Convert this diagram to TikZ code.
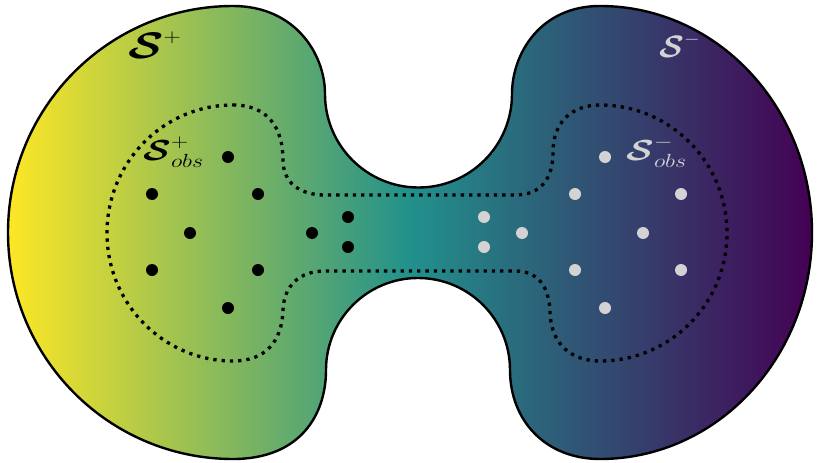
\RequirePackage{fix-cm}
\documentclass[tikz,border=0pt]{standalone}
\usepackage{amsmath}
\usepackage{graphicx}
\definecolor{vyellow}{HTML}{FDE725}
\definecolor{vteal}{HTML}{21918C}
\definecolor{vpurple}{HTML}{440154}
\definecolor{lightdot}{HTML}{D3D3D3}
\pgfdeclarehorizontalshading{viridis}{100bp}{color(0bp)=(vyellow); color(25bp)=(vyellow); color(50bp)=(vteal); color(75bp)=(vpurple); color(100bp)=(vpurple)}
\tikzset{
  outline/.style={draw=black, line width=2.4pt, shading=viridis},
  dotline/.style={draw=black, line width=3.3pt, dash pattern=on 3.3pt off 5pt, line cap=butt},
  bdot/.style={circle, fill=black, inner sep=0pt, minimum size=12pt},
  gdot/.style={circle, fill=lightdot, inner sep=0pt, minimum size=12pt},
  lab/.style={inner sep=0pt, anchor=base west}
}
\begin{document}
\begin{tikzpicture}[x=1pt,y=-1pt]
\useasboundingbox (0,0) rectangle (819,463);
\shadedraw[outline] (233,6) .. controls (295,6) and (325,54) .. (325,94)
  arc[start angle=180, end angle=0, radius=93.5]
  .. controls (512,54) and (540,6) .. (600,6)
  arc[start angle=270, end angle=450, x radius=212, y radius=226.5]
  .. controls (545,459) and (510,420) .. (510,370)
  arc[start angle=0, end angle=-180, radius=92]
  .. controls (326,415) and (300,459) .. (233,459)
  arc[start angle=90, end angle=270, x radius=225, y radius=226.5]
  -- cycle;
\draw[dotline] (233,105) .. controls (268,105) and (283,128) .. (283,160)
  .. controls (283,183) and (300,195) .. (325,195) -- (515,195)
  .. controls (540,195) and (553,180) .. (553,152)
  .. controls (553,122) and (572,105) .. (600,105)
  arc[start angle=270, end angle=450, x radius=127, y radius=128]
  .. controls (572,361) and (551,345) .. (550,312)
  .. controls (549,285) and (537,271) .. (515,271) -- (325,271)
  .. controls (300,271) and (284,285) .. (283,310)
  .. controls (282,342) and (265,361) .. (233,361)
  arc[start angle=90, end angle=270, x radius=126, y radius=128] -- cycle;
% black points
\node[bdot] (b1) at (228,157) {};
\node[bdot] (b2) at (152,194) {};
\node[bdot] (b3) at (258,194) {};
\node[bdot] (b4) at (190,233) {};
\node[bdot] (b5) at (152,270) {};
\node[bdot] (b6) at (258,270) {};
\node[bdot] (b7) at (228,308) {};
\node[bdot] (b8) at (312,233) {};
\node[bdot] (b9) at (348,217) {};
\node[bdot] (b10) at (348,247) {};
% gray points
\node[gdot] (g1) at (484,217) {};
\node[gdot] (g2) at (484,247) {};
\node[gdot] (g3) at (522,233) {};
\node[gdot] (g4) at (605,157) {};
\node[gdot] (g5) at (575,194) {};
\node[gdot] (g6) at (681,194) {};
\node[gdot] (g7) at (643,233) {};
\node[gdot] (g8) at (575,270) {};
\node[gdot] (g9) at (681,270) {};
\node[gdot] (g10) at (605,308) {};
% labels
\node[lab] (splus) at (128,58) {\scalebox{1.25}[1]{\fontsize{37}{37}\selectfont$\boldsymbol{\mathcal{S}}^{\hbox{\fontsize{19}{19}\selectfont$+$}}$}};
\node[lab] (sobsplus) at (143,160) {\scalebox{1.25}[1]{\fontsize{29}{29}\selectfont$\boldsymbol{\mathcal{S}}^{\hbox{\fontsize{19}{19}\selectfont$+$}}_{\hbox{\fontsize{19}{19}\selectfont$obs$}}$}};
\node[lab, text=lightdot] (sminus) at (659,57) {\scalebox{1.05}[1]{\fontsize{31}{31}\selectfont$\boldsymbol{\mathcal{S}}^{\hbox{\fontsize{19}{19}\selectfont$-$}}$}};
\node[lab, text=lightdot] (sobsminus) at (626,160) {\scalebox{1.25}[1]{\fontsize{29}{29}\selectfont$\boldsymbol{\mathcal{S}}^{\hbox{\fontsize{19}{19}\selectfont$-$}}_{\hbox{\fontsize{19}{19}\selectfont$obs$}}$}};
\end{tikzpicture}
\end{document}
